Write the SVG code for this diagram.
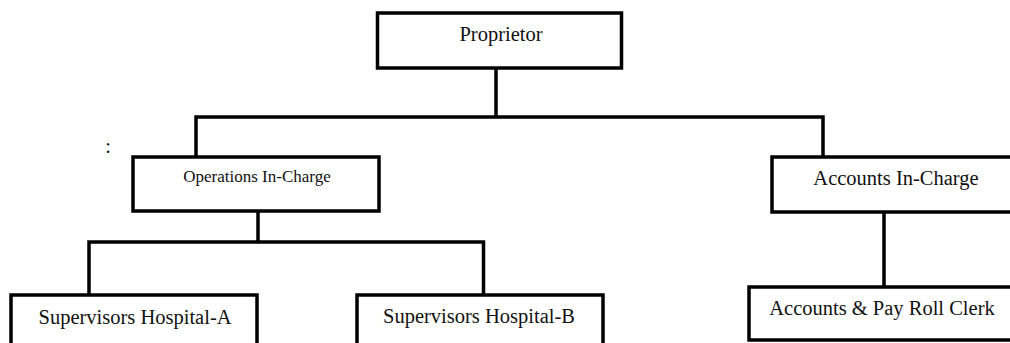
<svg xmlns="http://www.w3.org/2000/svg" width="1010" height="343" viewBox="0 0 1010 343">
<style>
.box{fill:#fff;stroke:#000;stroke-width:3.5}
.ln{fill:none;stroke:#000;stroke-width:3.5}
text{font-family:"Liberation Serif","Times New Roman",serif;fill:#111;text-anchor:middle}
.t{font-size:20.5px}
.s{font-size:17px}
</style>
<rect width="1010" height="343" fill="#fff"/>
<g id="connectors">
<path class="ln" d="M496 68 V117"/>
<path class="ln" d="M196 157 V117 H823 V157"/>
<path class="ln" d="M258 211 V242"/>
<path class="ln" d="M89 295 V242 H483.5 V295"/>
<path class="ln" d="M884 212 V287"/>
</g>
<g id="proprietor"><rect class="box" x="377.5" y="13" width="244" height="55"/><text class="t" x="501" y="41">Proprietor</text></g>
<g id="operations"><rect class="box" x="133" y="157" width="246" height="54"/><text class="s" x="257" y="182">Operations In-Charge</text></g>
<g id="accounts"><rect class="box" x="772" y="157" width="250" height="55"/><text class="t" x="896" y="185">Accounts In-Charge</text></g>
<g id="supA"><rect class="box" x="11" y="295" width="246" height="60"/><text class="t" x="135" y="324">Supervisors Hospital-A</text></g>
<g id="supB"><rect class="box" x="357" y="295" width="246" height="60"/><text class="t" x="479" y="323">Supervisors Hospital-B</text></g>
<g id="clerk"><rect class="box" x="749" y="287" width="270" height="53"/><text class="t" x="882" y="315">Accounts &amp; Pay Roll Clerk</text></g>
<text class="t" x="108" y="153">:</text>
</svg>
